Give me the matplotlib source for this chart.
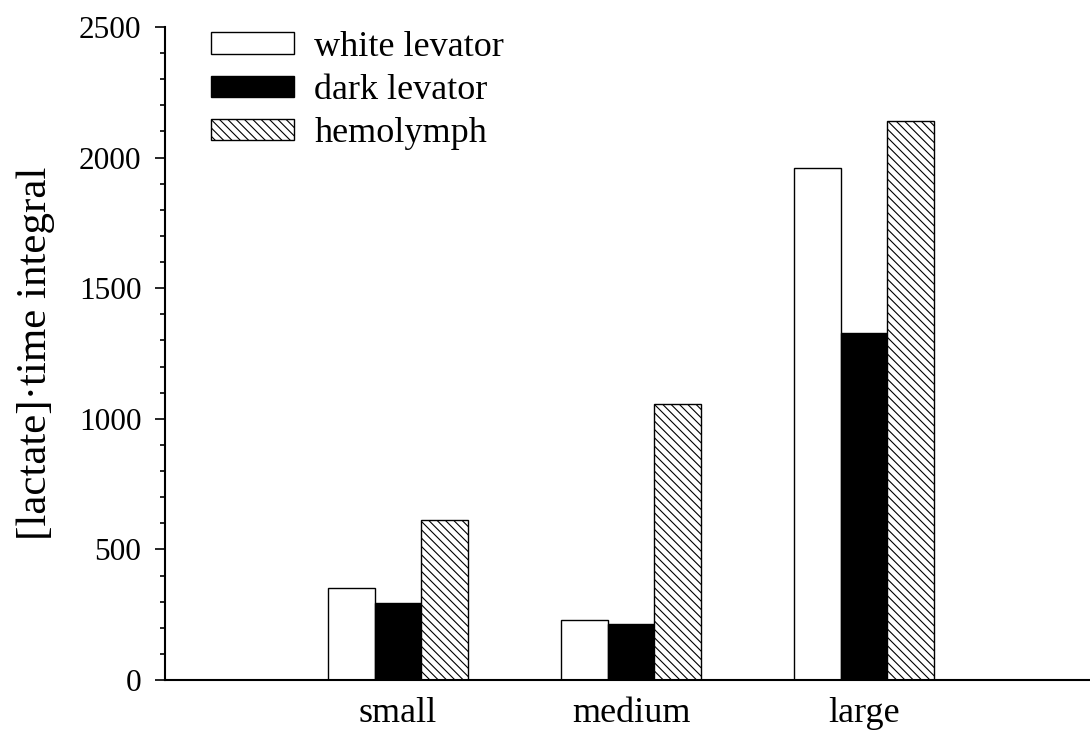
import numpy as np
import matplotlib
matplotlib.use("Agg")
import matplotlib.pyplot as plt
from matplotlib.ticker import MultipleLocator

# lactate-time integrals by body size
sizes = ["small", "medium", "large"]
white_levator = [352, 230, 1960]
dark_levator = [295, 214, 1328]
hemolymph = [612, 1057, 2140]

plt.rcParams["font.family"] = ["Liberation Serif", "DejaVu Serif"]
plt.rcParams["hatch.linewidth"] = 0.8

fig = plt.figure(figsize=(10.9, 7.46), dpi=100)
ax = fig.add_axes([0.1514, 0.0885, 0.8486, 0.8753])

x = np.arange(1, len(sizes) + 1)
w = 0.2
ax.bar(x - w, white_levator, w, color="white", edgecolor="black", linewidth=1.0, label="white levator")
ax.bar(x, dark_levator, w, color="black", edgecolor="black", linewidth=1.0, label="dark levator")
ax.bar(x + w, hemolymph, w, color="white", edgecolor="black", linewidth=1.0, hatch="\\\\\\\\", label="hemolymph")

ax.set_xlim(0, 3.97)
ax.set_ylim(0, 2500)
ax.set_xticks(x)
ax.set_xticklabels(sizes)
ax.yaxis.set_major_locator(MultipleLocator(500))
ax.yaxis.set_minor_locator(MultipleLocator(100))

for side in ["top", "right"]:
    ax.spines[side].set_visible(False)
for side in ["left", "bottom"]:
    ax.spines[side].set_linewidth(1.5)

ax.tick_params(axis="y", which="major", direction="out", length=7, width=1.2, labelsize=22.5, pad=10)
ax.tick_params(axis="y", which="minor", direction="out", length=3.5, width=1.2)
ax.tick_params(axis="x", length=0, labelsize=26, pad=12)

ax.set_ylabel("[lactate]\u00b7time integral", fontsize=31)
ax.yaxis.set_label_coords(-0.119, 0.5)

ax.legend(loc="upper left", bbox_to_anchor=(0.05, 0.994), frameon=False, fontsize=26,
          handlelength=2.3, handleheight=0.53, labelspacing=0.28, handletextpad=0.55,
          borderpad=0, borderaxespad=0)

fig.savefig("out.png", dpi=100)
